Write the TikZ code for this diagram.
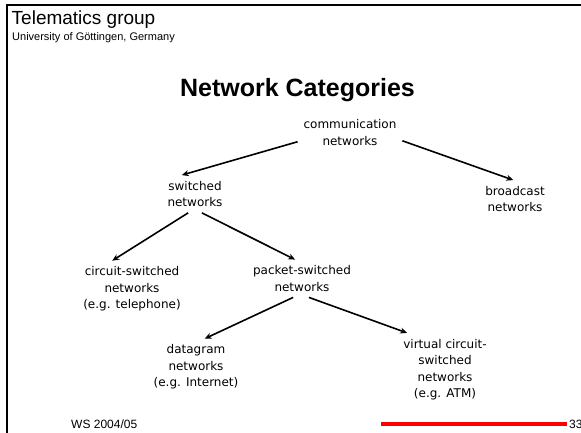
\documentclass[tikz,border=0pt]{standalone}
\usepackage{fontspec}
\setmainfont{Liberation Sans}
\newfontfamily\netfont{DejaVu Sans}
\usetikzlibrary{arrows.meta}
\definecolor{slidered}{RGB}{255,0,0}

\begin{document}
\begin{tikzpicture}[x=1pt,y=-1pt,
    net/.style={align=center,inner sep=1pt,outer sep=5pt,
      font=\netfont\fontsize{12}{16.5}\selectfont}]
  \useasboundingbox (0,0) rectangle (581,433);
  % slide frame
  \draw[line width=2pt] (7,433) -- (7,5) -- (581,5);
  \node[anchor=base west,inner sep=0pt,font=\fontsize{19}{22}\selectfont]
    (group) at (11.5,25) {Telematics group};
  \node[anchor=base west,inner sep=0pt,font=\fontsize{11}{13}\selectfont]
    (uni) at (12,40.5) {University of Göttingen, Germany};
  \node[anchor=base,inner sep=0pt,font=\bfseries\fontsize{25}{30}\selectfont]
    (title) at (297.5,97) {Network Categories};
  % footer
  \node[anchor=base west,inner sep=0pt,font=\fontsize{12}{14}\selectfont]
    (term) at (71,428.5) {WS 2004/05};
  \draw[slidered,line width=3.5pt] (381,424) -- (567,424);
  \node[anchor=base west,inner sep=0pt,font=\fontsize{12}{14}\selectfont]
    (page) at (569,428.5) {33};
  \draw
    (350,132.5) node[net] (comm){communication\\networks}
    (195,194) node[net] (switched){switched\\networks}
    (515,199) node[net] (broadcast){broadcast\\networks}
    (132,289) node[net] (circuit){circuit-switched\\networks\\(e.g. telephone)}
    (302,278.5) node[net] (packet){packet-switched\\networks}
    (196,367) node[net] (datagram){datagram\\networks\\(e.g. Internet)}
    (445,369.5) node[net] (virtual){virtual circuit-\\switched\\networks\\(e.g. ATM)};
  \begin{scope}[-{Stealth[length=7pt,width=6pt]},line width=1.6pt]
    \draw (comm.190) to (switched.125);
    \draw (comm.351) to (broadcast.95);
    \draw (switched.250) to (circuit.125);
    \draw (switched.290) to (packet.110);
    \draw (packet.245) to (datagram.73);
    \draw (packet.290) to (virtual.136);
  \end{scope}
\end{tikzpicture}
\end{document}
